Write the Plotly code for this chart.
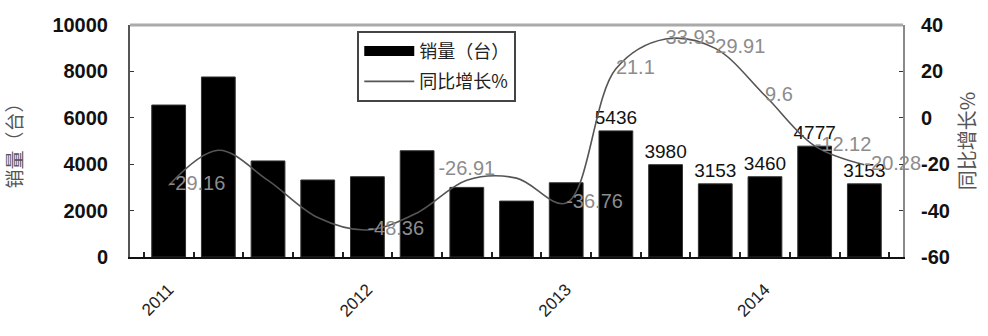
import plotly.graph_objects as go

# Quarterly sales (units) and year-on-year growth (%)
quarters = ["2011Q1", "2011Q2", "2011Q3", "2011Q4",
            "2012Q1", "2012Q2", "2012Q3", "2012Q4",
            "2013Q1", "2013Q2", "2013Q3", "2013Q4",
            "2014Q1", "2014Q2", "2014Q3"]
year_ticks = ["2011", "", "", "", "2012", "", "", "", "2013", "", "", "", "2014", "", ""]
sales = [6550, 7760, 4140, 3320, 3460, 4580, 3000, 2410, 3200,
         5436, 3980, 3153, 3460, 4777, 3153]
growth = [-29.16, -14.0, -27.0, -43.0, -48.36, -41.0, -26.91, -26.0, -36.76,
          21.1, 33.93, 29.91, 9.6, -12.12, -20.28]
sales_ticks = [0, 2000, 4000, 6000, 8000, 10000]
growth_ticks = [-60, -40, -20, 0, 20, 40]

# Which points carry a value label
sales_labelled = [9, 10, 11, 12, 13, 14]
growth_labelled = [0, 4, 6, 8, 9, 10, 11, 12, 13, 14]
growth_label_pos = {6: "top center"}

sales_text = [str(v) if i in sales_labelled else "" for i, v in enumerate(sales)]
growth_text = [str(v) if i in growth_labelled else "" for i, v in enumerate(growth)]
growth_pos = [growth_label_pos.get(i, "middle right") for i in range(len(growth))]

CJK = "Noto Sans CJK SC, Liberation Sans, sans-serif"
NUM = "Liberation Sans, Arial, sans-serif"

fig = go.Figure()

fig.add_trace(go.Bar(
    x=quarters, y=sales, name="销量（台）",
    marker=dict(color="#000000", line=dict(color="#333333", width=1)),
    width=0.68,
    text=sales_text, textposition="outside", constraintext="none",
    textfont=dict(family=NUM, size=19, color="#111111"),
    cliponaxis=False,
    legendgroup="sales", showlegend=False,
))

# legend entry for the bars, drawn as a thick black stroke
fig.add_trace(go.Scatter(
    x=[None], y=[None], mode="lines", name="销量（台）",
    line=dict(color="#000000", width=13),
    legendgroup="sales", showlegend=True,
))

fig.add_trace(go.Scatter(
    x=quarters, y=growth, name="同比增长%", yaxis="y2",
    mode="lines+text",
    line=dict(color="#555555", width=1.6, shape="spline", smoothing=1.0),
    text=growth_text, textposition=growth_pos,
    textfont=dict(family=NUM, size=20, color="#8c8c8c"),
    cliponaxis=False,
))

fig.update_layout(
    width=988, height=336,
    margin=dict(l=130, r=83, t=25, b=79),
    paper_bgcolor="white", plot_bgcolor="white",
    bargap=0.32,
    xaxis=dict(
        type="category",
        tickmode="array", tickvals=quarters, ticktext=year_ticks,
        tickson="boundaries", ticks="inside", ticklen=5, tickwidth=1.5,
        tickcolor="#222222",
        tickangle=-45, ticklabelstandoff=14,
        tickfont=dict(family=NUM, size=17, color="#222222"),
        showline=True, linecolor="#111111", linewidth=2,
        showgrid=False, zeroline=False,
    ),
    yaxis=dict(
        range=[0, 10000], tickmode="array",
        tickvals=sales_ticks, ticktext=[str(v) for v in sales_ticks],
        ticks="inside", ticklen=4, tickcolor="#333333",
        tickfont=dict(family=NUM, size=20, color="#111111", weight="bold"),
        ticklabelstandoff=16,
        showline=True, linecolor="#555555", linewidth=2,
        showgrid=False, zeroline=False,
        title=dict(text="销量（台）", font=dict(family=CJK, size=19, color="#555555"),
                   standoff=26),
    ),
    yaxis2=dict(
        range=[-60, 40], overlaying="y", side="right",
        tickmode="array", tickvals=growth_ticks, ticktext=[str(v) for v in growth_ticks],
        ticks="inside", ticklen=4, tickcolor="#333333",
        tickfont=dict(family=NUM, size=20, color="#111111", weight="bold"),
        ticklabelstandoff=12,
        showline=True, linecolor="#8a8a8a", linewidth=2,
        showgrid=False, zeroline=False,
        title=dict(text="同比增长%", font=dict(family=CJK, size=20, color="#555555"),
                   standoff=12),
    ),
    legend=dict(
        x=0.294, y=0.975, xanchor="left", yanchor="top",
        bgcolor="white", bordercolor="#444444", borderwidth=2,
        font=dict(family=CJK, size=18, color="#222222"),
        itemwidth=50, tracegroupgap=4,
    ),
    shapes=[dict(type="line", xref="paper", yref="paper", x0=0, x1=1, y0=1, y1=1,
                 line=dict(color="#aaaaaa", width=3))],
)

fig.write_html("out.html")
